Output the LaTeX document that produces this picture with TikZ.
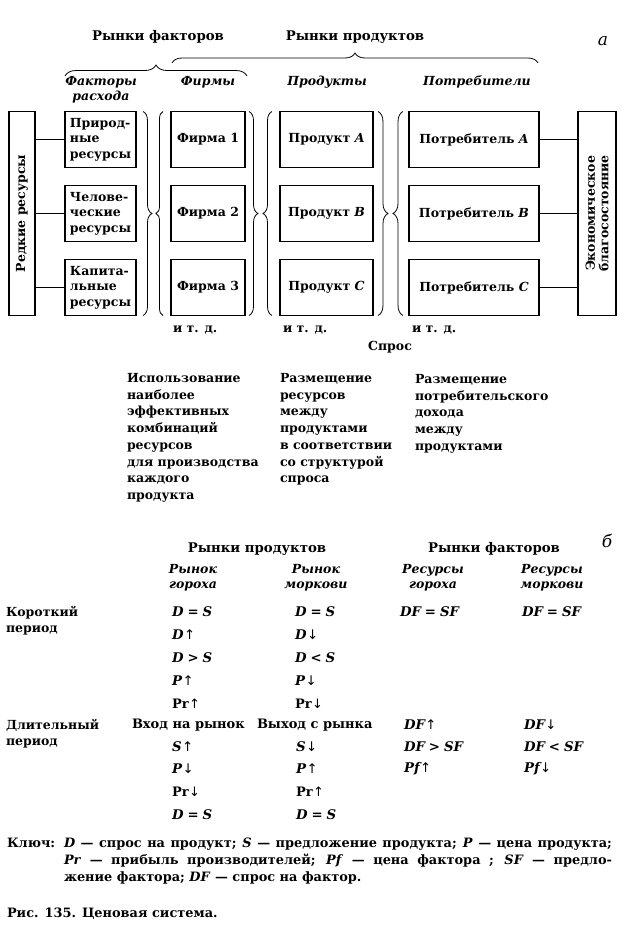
\documentclass[tikz,border=0pt]{standalone}
\usepackage{fontspec}
\setmainfont{DejaVu Serif}
\newfontfamily\arrowfont{DejaVu Sans}
\usetikzlibrary{decorations.pathreplacing}
\newcommand\up{\kern0.5pt{\arrowfont\mdseries ↑}}
\newcommand\dn{\kern0.5pt{\arrowfont\mdseries ↓}}
\newcommand\mi[1]{\textit{#1}}
\newcommand\eqsp{\hspace{4pt}}
\newcommand\stack[2][16.7pt]{\vtop{\baselineskip=#1\relax\halign{##\hfil\cr#2\crcr}}}
\begin{document}
\begin{tikzpicture}[x=1pt,y=-1pt,
  every node/.style={font=\bfseries\fontsize{12.5}{15.5}\selectfont, inner sep=0pt, outer sep=0pt},
  head/.style={font=\bfseries\fontsize{13.3}{16}\selectfont},
  keyf/.style={font=\bfseries\fontsize{12.9}{16.8}\selectfont},
  box/.style={draw, line width=1.1pt, minimum height=56pt, align=center},
  conn/.style={line width=1pt},
  brc/.style={decorate, decoration={brace, amplitude=#1}, line width=0.8pt},
  ital/.style={font=\bfseries\itshape\fontsize{12.5}{15.5}\selectfont},
  cell/.style={anchor=west, font=\bfseries\itshape\fontsize{13.3}{15.5}\selectfont},
  ucell/.style={anchor=west, font=\bfseries\fontsize{13}{15.5}\selectfont},
  big/.style={font=\itshape\fontsize{17}{20}\selectfont},
]
\useasboundingbox (0,0) rectangle (626,935);

% ---------- part a: headers ----------
\node[head] (hf) at (158,37) {Рынки факторов};
\node[head] (hp) at (355,37) {Рынки продуктов};
\node[big] (la) at (603,41) {а};
\draw[brc=10pt] (172,63) -- (538,63);
\draw[brc=11pt] (65,76) -- (247,76);
\node[ital, align=center] (lf) at (101,89.5) {Факторы\\расхода};
\node[ital] (lm) at (208,82) {Фирмы};
\node[ital] (lp) at (327,82) {Продукты};
\node[ital] (lc) at (477,82) {Потребители};

% ---------- boxes ----------
\node[draw, line width=1.1pt, rotate=90, minimum width=204pt, minimum height=26pt] (rr) at (22,213.5) {Редкие ресурсы};
\node[box, minimum width=71pt, align=left] (f1) at (100.5,139.5) {Природ-\\ные\\ресурсы};
\node[box, minimum width=71pt, align=left] (f2) at (100.5,213.5) {Челове-\\ческие\\ресурсы};
\node[box, minimum width=71pt, align=left] (f3) at (100.5,287.5) {Капита-\\льные\\ресурсы};
\node[box, minimum width=74pt] (m1) at (208,139.5) {Фирма 1};
\node[box, minimum width=74pt] (m2) at (208,213.5) {Фирма 2};
\node[box, minimum width=74pt] (m3) at (208,287.5) {Фирма 3};
\node[box, minimum width=93pt] (p1) at (326.5,139.5) {Продукт \mi{A}};
\node[box, minimum width=93pt] (p2) at (326.5,213.5) {Продукт \mi{B}};
\node[box, minimum width=93pt] (p3) at (326.5,287.5) {Продукт \mi{C}};
\node[box, minimum width=130pt] (c1) at (474,139.5) {Потребитель \mi{A}};
\node[box, minimum width=130pt] (c2) at (474,213.5) {Потребитель \mi{B}};
\node[box, minimum width=130pt] (c3) at (474,287.5) {Потребитель \mi{C}};
\node[draw, line width=1.1pt, rotate=90, minimum width=204pt, minimum height=38pt, align=center,
      font=\bfseries\fontsize{12.5}{13.5}\selectfont] (eb) at (597,213.5) {Экономическое\\благосостояние};

% connectors (rotated boxes: south = right side, north = left side)
\foreach \b in {f1,f2,f3} \draw[conn] (\b.west) -- (\b.west -| rr.south);
\foreach \b in {c1,c2,c3} \draw[conn] (\b.east) -- (\b.east -| eb.north);

% braces between columns
\draw[brc=9pt] ([xshift=7pt]f1.north east) -- ([xshift=7pt]f3.south east);
\draw[brc=7pt] ([xshift=-8pt]m3.south west) -- ([xshift=-8pt]m1.north west);
\draw[brc=9pt] ([xshift=4pt]m1.north east) -- ([xshift=4pt]m3.south east);
\draw[brc=9pt] ([xshift=-8pt]p3.south west) -- ([xshift=-8pt]p1.north west);
\draw[brc=10pt] ([xshift=5pt]p1.north east) -- ([xshift=5pt]p3.south east);
\draw[brc=10pt] ([xshift=-6pt]c3.south west) -- ([xshift=-6pt]c1.north west);

% etc. labels
\node[anchor=west] (e1) at (173,330) {и т. д.};
\node[anchor=west] (e2) at (283,330) {и т. д.};
\node[anchor=west] (e3) at (412,330) {и т. д.};
\node (sp) at (390,347) {Спрос};

\node[anchor=base west] (t1) at (127,382.5) {\stack{Использование\cr наиболее\cr эффективных\cr комбинаций\cr ресурсов\cr для производства\cr каждого\cr продукта}};
\node[anchor=base west] (t2) at (280,382.5) {\stack{Размещение\cr ресурсов\cr между\cr продуктами\cr в соответствии\cr со структурой\cr спроса}};
\node[anchor=base west] (t3) at (415,383.5) {\stack{Размещение\cr потребительского\cr дохода\cr между\cr продуктами}};

% ---------- part b ----------
\node[big] (lb) at (607,541) {б};
\node[head] (bp) at (257,549) {Рынки продуктов};
\node[head] (bf) at (494,549) {Рынки факторов};
\node[ital, align=center] (h1) at (193,577.5) {Рынок\\гороха};
\node[ital, align=center] (h2) at (316,577.5) {Рынок\\моркови};
\node[ital, align=center] (h3) at (433,577.5) {Ресурсы\\гороха};
\node[ital, align=center] (h4) at (552,577.5) {Ресурсы\\моркови};

\node[anchor=base west] (rs) at (6,616.5) {\stack[16pt]{Короткий\cr период}};
\node[anchor=base west] (rl) at (6,729) {\stack[16pt]{Длительный\cr период}};

% short period
\node[cell] (a1) at (172,612) {D\eqsp=\eqsp S};
\node[cell] (b1) at (295,612) {D\eqsp=\eqsp S};
\node[cell] (c31) at (400,612) {DF\eqsp=\eqsp SF};
\node[cell] (d1) at (522,612) {DF\eqsp=\eqsp SF};
\node[cell] (a2) at (172,634.5) {D\up};
\node[cell] (b2) at (295,634.5) {D\dn};
\node[cell] (a3) at (172,657.5) {D\eqsp>\eqsp S};
\node[cell] (b3) at (295,657.5) {D\eqsp<\eqsp S};
\node[cell] (a4) at (172,680.5) {P\up};
\node[cell] (b4) at (295,680.5) {P\dn};
\node[ucell] (a5) at (172,703.5) {Pr\up};
\node[ucell] (b5) at (295,703.5) {Pr\dn};

% long period
\node[ucell] (a6) at (132,725) {Вход на рынок};
\node[ucell] (b6) at (257,725) {Выход с рынка};
\node[cell] (c36) at (404,725) {DF\up};
\node[cell] (d6) at (524,725) {DF\dn};
\node[cell] (a7) at (172,746.5) {S\up};
\node[cell] (b7) at (296,746.5) {S\dn};
\node[cell] (c37) at (404,746.5) {DF\eqsp>\eqsp SF};
\node[cell] (d7) at (524,746.5) {DF\eqsp<\eqsp SF};
\node[cell] (a8) at (172,769) {P\dn};
\node[cell] (b8) at (296,769) {P\up};
\node[cell] (c38) at (404,769) {Pf\up};
\node[cell] (d8) at (524,769) {Pf\dn};
\node[ucell] (a9) at (172,791.5) {Pr\dn};
\node[ucell] (b9) at (296,791.5) {Pr\up};
\node[cell] (a10) at (172,814.5) {D\eqsp=\eqsp S};
\node[cell] (b10) at (296,814.5) {D\eqsp=\eqsp S};

% key
\node[keyf, anchor=base west] (kl) at (7,847.5) {Ключ:};
\node[keyf, anchor=base west] (kt) at (64,847.5) {\vtop{\baselineskip=16.8pt
  \hbox to 548pt{\mi{D} — спрос на продукт; \mi{S} — предложение продукта; \mi{P} — цена продукта;}
  \hbox to 548pt{\mi{Pr} — прибыль производителей; \mi{Pf} — цена фактора ; \mi{SF} — предло-}
  \hbox{жение фактора; \mi{DF} — спрос на фактор.}}};
\node[keyf, anchor=base west] (cap) at (7,917.5) {Рис. 135. Ценовая система.};
\end{tikzpicture}
\end{document}
